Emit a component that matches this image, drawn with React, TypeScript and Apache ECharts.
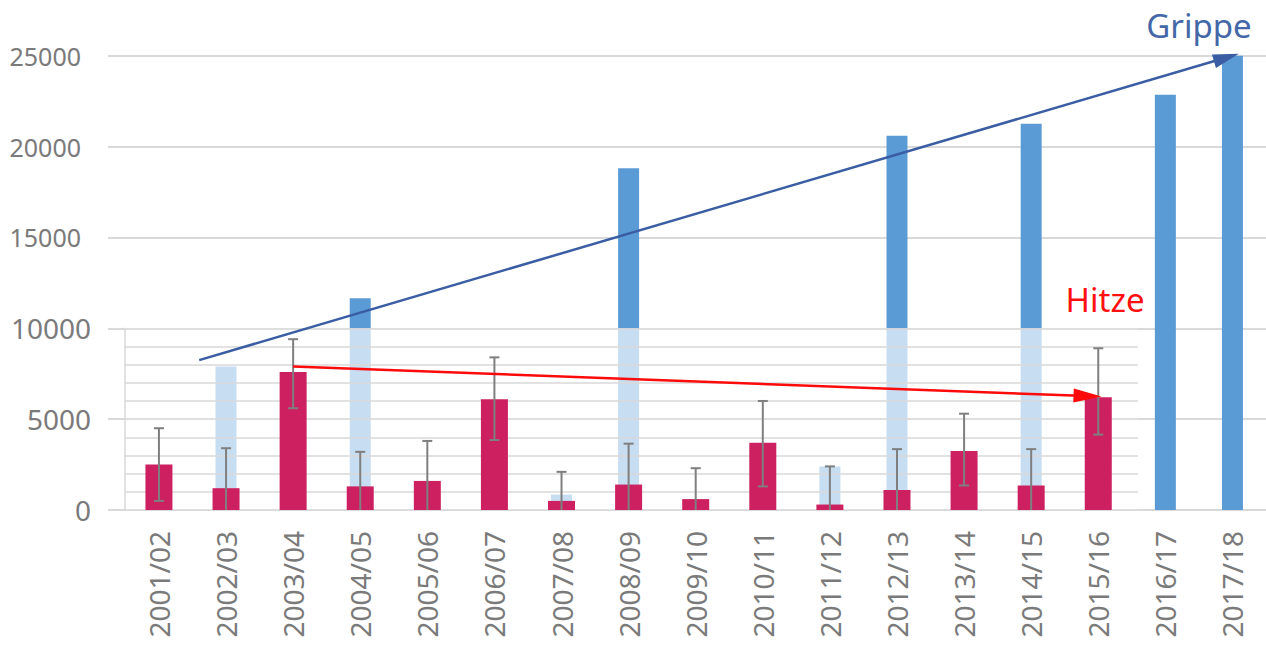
import React, { useEffect, useRef } from 'react';
import * as echarts from 'echarts';

// ---- data ----
const seasons = [
  '2001/02', '2002/03', '2003/04', '2004/05', '2005/06', '2006/07', '2007/08', '2008/09', '2009/10',
  '2010/11', '2011/12', '2012/13', '2013/14', '2014/15', '2015/16', '2016/17', '2017/18',
];
// Grippe (influenza) excess deaths
const grippe = [null, 7900, null, 11650, null, null, 850, 18800, null, null, 2400, 20600, null, 21250, null, 22850, 25100];
// Hitze (heat) deaths with error range
const hitze = [2500, 1200, 7600, 1300, 1600, 6100, 500, 1400, 600, 3700, 300, 1100, 3250, 1350, 6200, null, null];
const hitzeUpper = [4500, 3400, 9400, 3200, 3800, 8400, 2100, 3650, 2300, 6000, 2400, 3350, 5300, 3350, 8900, null, null];
const hitzeLower = [500, 0, 5600, 0, 0, 3850, 0, 0, 0, 1300, 0, 0, 1350, 0, 4150, null, null];
// axis ticks
const mainMax = 25000;
const mainStep = 5000;
const insetMax = 10000;
const insetStep = 1000;
// trend arrows [categoryIndex, value]
const grippeTrend = [[0.6, 8250], [15.91, 24900]];
const hitzeTrend = [[2.0, 7900], [13.84, 6270]];

const FONT = 'Noto Sans';
const GRAY = '#7a7a7a';
const GRID = '#d9d9d9';

export default function App() {
  const ref = useRef<HTMLDivElement>(null);
  useEffect(() => {
    document.body.style.margin = '0';
    const chart = echarts.init(ref.current!, null, { renderer: 'svg' });
    const errData = seasons
      .map((_, i) => [i, hitzeUpper[i], hitzeLower[i]])
      .filter((d) => d[1] != null);
    const option: any = {
      animation: false,
      backgroundColor: '#ffffff',
      textStyle: { fontFamily: FONT },
      grid: [
        { left: 108, right: 0, top: 55.7, bottom: 138 },
        { left: 125.4, width: 1142, top: 55.7, bottom: 138 },
        { left: 125, width: 1013, top: 328.3, bottom: 138 },
      ],
      xAxis: [
        { gridIndex: 0, type: 'value', min: 0, max: 1, show: false },
        {
          gridIndex: 1, type: 'category', data: seasons,
          axisLine: { show: false }, axisTick: { show: false },
          axisLabel: { rotate: 90, interval: 0, fontSize: 28, color: GRAY, fontFamily: FONT, margin: 21 },
        },
        { gridIndex: 1, type: 'category', data: seasons, show: false },
        { gridIndex: 1, type: 'value', min: -0.5, max: 16.5, show: false },
        { gridIndex: 2, type: 'value', min: 0, max: 1, show: false },
      ],
      yAxis: [
        {
          gridIndex: 0, type: 'value', min: 0, max: mainMax, interval: mainStep,
          axisLine: { show: false }, axisTick: { show: false },
          splitLine: { lineStyle: { color: GRID, width: 2 } },
          axisLabel: {
            fontSize: 25, color: GRAY, fontFamily: FONT, margin: 27,
            formatter: (v: number) => (v > insetMax ? String(v) : ''),
          },
        },
        { gridIndex: 1, type: 'value', min: 0, max: mainMax, show: false },
        {
          gridIndex: 2, type: 'value', min: 0, max: insetMax, interval: insetStep, z: 3,
          axisLine: { show: true, lineStyle: { color: GRID, width: 1.5 } }, axisTick: { show: false },
          splitLine: { lineStyle: { color: GRID, width: 1.5 } },
          axisLabel: {
            fontSize: 28, color: GRAY, fontFamily: FONT, margin: 34,
            formatter: (v: number) => (v % 5000 === 0 ? String(v) : ''),
          },
        },
      ],
      series: [
        {
          name: 'Grippe', type: 'bar', xAxisIndex: 2, yAxisIndex: 1, data: grippe,
          barWidth: 21, itemStyle: { color: '#5b9bd5' }, z: 1,
        },
        {
          name: 'overlay', type: 'custom', xAxisIndex: 4, yAxisIndex: 2, data: [[0, 0]], z: 2, silent: true,
          renderItem: (_p: any, api: any) => {
            const a = api.coord([0, insetMax]);
            const b = api.coord([1, 0]);
            return {
              type: 'rect',
              shape: { x: a[0], y: a[1], width: b[0] - a[0], height: b[1] - a[1] },
              style: { fill: 'rgba(255,255,255,0.66)' },
            };
          },
        },
        {
          name: 'Hitze', type: 'bar', xAxisIndex: 1, yAxisIndex: 1, data: hitze,
          barWidth: 27, itemStyle: { color: '#cd2060' }, z: 4,
        },
        {
          name: 'Fehler', type: 'custom', xAxisIndex: 1, yAxisIndex: 1, data: errData, z: 5, silent: true,
          encode: { x: 0, y: [1, 2] },
          renderItem: (_p: any, api: any) => {
            const i = api.value(0);
            const hi = api.coord([i, api.value(1)]);
            const lo = api.coord([i, api.value(2)]);
            const cap = 5;
            const st = { stroke: '#7f7f7f', lineWidth: 2 };
            const children: any[] = [
              { type: 'line', shape: { x1: hi[0], y1: hi[1], x2: lo[0], y2: lo[1] }, style: st },
              { type: 'line', shape: { x1: hi[0] - cap, y1: hi[1], x2: hi[0] + cap, y2: hi[1] }, style: st },
            ];
            if (api.value(2) > 0) {
              children.push({ type: 'line', shape: { x1: lo[0] - cap, y1: lo[1], x2: lo[0] + cap, y2: lo[1] }, style: st });
            }
            return { type: 'group', children };
          },
        },
        {
          name: 'Trend Grippe', type: 'line', xAxisIndex: 3, yAxisIndex: 1, data: [], z: 6,
          markLine: {
            z: 6, silent: true, symbol: ['none', 'triangle'], symbolSize: [14, 26],
            label: { show: false },
            lineStyle: { color: '#3a5da3', width: 2.5, type: 'solid' },
            data: [[{ coord: grippeTrend[0] }, { coord: grippeTrend[1] }]],
          },
        },
        {
          name: 'Trend Hitze', type: 'line', xAxisIndex: 3, yAxisIndex: 1, data: [], z: 6,
          markLine: {
            z: 6, silent: true, symbol: ['none', 'triangle'], symbolSize: [14, 28],
            label: { show: false },
            lineStyle: { color: '#ff0a0a', width: 2.5, type: 'solid' },
            data: [[{ coord: hitzeTrend[0] }, { coord: hitzeTrend[1] }]],
          },
        },
      ],
      graphic: [
        {
          type: 'text', x: 1199, y: 25, z: 10,
          style: { text: 'Grippe', fill: '#4467a7', font: `33px "${FONT}"`, textAlign: 'center', textVerticalAlign: 'middle' },
        },
        {
          type: 'text', x: 1105, y: 299, z: 10,
          style: { text: 'Hitze', fill: '#ff1010', font: `33px "${FONT}"`, textAlign: 'center', textVerticalAlign: 'middle' },
        },
      ],
    };
    chart.setOption(option);
    return () => chart.dispose();
  }, []);
  return <div ref={ref} style={{ width: 1266, height: 648 }} />;
}
